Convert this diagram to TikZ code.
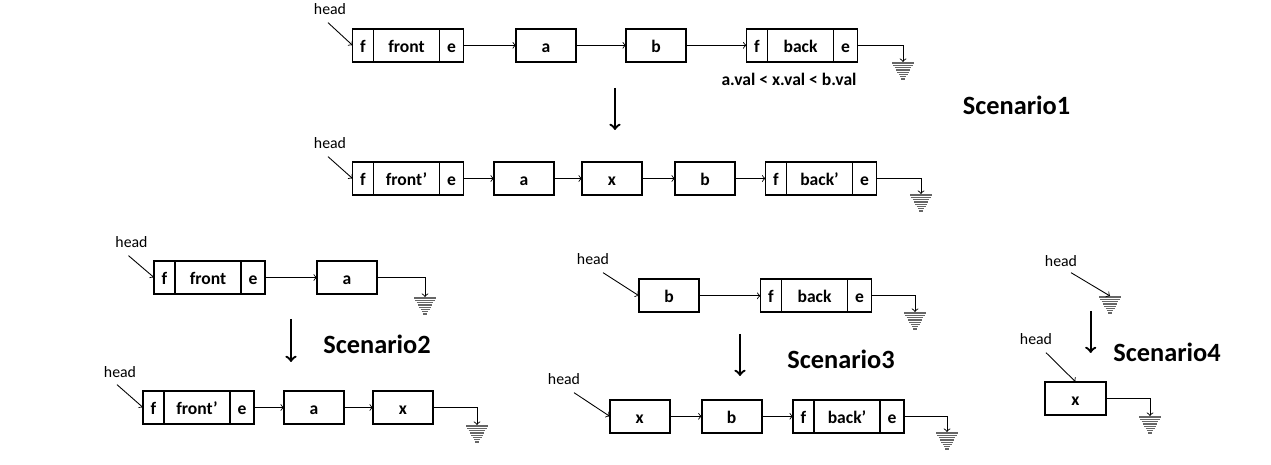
\documentclass[tikz,border=0pt]{standalone}
\usepackage{fontspec}
\setmainfont{Carlito}
\usetikzlibrary{positioning}

\begin{document}
\begin{tikzpicture}[
        x=0.02cm, y=-0.02cm,
        box/.style={draw, line width=1pt, outer sep=0pt, inner sep=0pt, minimum height=0.66cm, text height=8pt, text depth=0pt, font=\bfseries},
        cell/.style={box, minimum width=1.2cm},
        midpart/.style={box, minimum width=1.32cm},
        fpart/.style={box, minimum width=0.42cm},
        epart/.style={box, minimum width=0.48cm},
        headlbl/.style={inner sep=1pt, font=\small},
        scen/.style={font=\fontsize{15}{18}\selectfont\bfseries},
        ptr/.style={->, line width=0.5pt},
        downarr/.style={->, line width=1.3pt},
        gnd/.pic={\foreach \i in {0,...,7} \draw[black!60, line width=0.7pt] ({-11+1.3*\i},{1+2.3*\i}) -- ({11-1.3*\i},{1+2.3*\i});}
        ]
        \useasboundingbox (0,0) rectangle (1271,465);

        % Scenario1, before
        \node[headlbl] (h1) at (330,9) {head};
        \node[midpart] (fr1) at (406.5,45.3) {front};
        \node[fpart, left=0pt of fr1] (fr1f) {f};
        \node[epart, right=0pt of fr1] (fr1e) {e};
        \node[cell] (a1) at (546,45.3) {a};
        \node[cell] (b1) at (656,45.3) {b};
        \node[midpart] (bk1) at (800.5,45.3) {back};
        \node[fpart, left=0pt of bk1] (bk1f) {f};
        \node[epart, right=0pt of bk1] (bk1e) {e};
        \coordinate (g1) at (903,62);
        \pic at (g1) {gnd};
        \node[font=\bfseries] (cond) at (789,79) {a.val < x.val < b.val};

        \draw[ptr] ([shift={(-2,6)}]h1.south) -- (fr1f.west);
        \draw[ptr] (fr1e) -- (a1);
        \draw[ptr] (a1) -- (b1);
        \draw[ptr] (b1) -- (bk1f);
        \draw[ptr] (bk1e.east) -| (g1);

        \coordinate (d1a) at (615,88);
        \coordinate (d1b) at (615,130);
        \draw[downarr] (d1a) -- (d1b);
        \node[scen] (s1) at (1016.5,105.5) {Scenario1};

        % Scenario1, after
        \node[headlbl] (h2) at (330,143) {head};
        \node[midpart] (fr2) at (406.5,178.5) {front’};
        \node[fpart, left=0pt of fr2] (fr2f) {f};
        \node[epart, right=0pt of fr2] (fr2e) {e};
        \node[cell] (a2) at (524,178.5) {a};
        \node[cell] (x2) at (612,178.5) {x};
        \node[cell] (b2) at (705,178.5) {b};
        \node[midpart] (bk2) at (819.5,178.5) {back’};
        \node[fpart, left=0pt of bk2] (bk2f) {f};
        \node[epart, right=0pt of bk2] (bk2e) {e};
        \coordinate (g2) at (921,194);
        \pic at (g2) {gnd};

        \draw[ptr] ([shift={(-2,6)}]h2.south) -- (fr2f.west);
        \draw[ptr] (fr2e) -- (a2);
        \draw[ptr] (a2) -- (x2);
        \draw[ptr] (x2) -- (b2);
        \draw[ptr] (b2) -- (bk2f);
        \draw[ptr] (bk2e.east) -| (g2);

        % Scenario2
        \node[headlbl] (h3) at (131.5,242) {head};
        \node[midpart] (fr3) at (208,277.5) {front};
        \node[fpart, left=0pt of fr3] (fr3f) {f};
        \node[epart, right=0pt of fr3] (fr3e) {e};
        \node[cell] (a3) at (347,277.5) {a};
        \coordinate (g3) at (425,297);
        \pic at (g3) {gnd};

        \draw[ptr] ([shift={(-3,6)}]h3.south) -- (fr3f.west);
        \draw[ptr] (fr3e) -- (a3);
        \draw[ptr] (a3.east) -| (g3);

        \coordinate (d2a) at (291,319);
        \coordinate (d2b) at (291,362);
        \draw[downarr] (d2a) -- (d2b);
        \node[scen] (s2) at (377,344) {Scenario2};

        \node[headlbl] (h4) at (120,372) {head};
        \node[midpart] (fr4) at (197,407.5) {front’};
        \node[fpart, left=0pt of fr4] (fr4f) {f};
        \node[epart, right=0pt of fr4] (fr4e) {e};
        \node[cell] (a4) at (314,407.5) {a};
        \node[cell] (x4) at (403,407.5) {x};
        \coordinate (g4) at (477,425);
        \pic at (g4) {gnd};

        \draw[ptr] ([shift={(-3,5)}]h4.south) -- (fr4f.west);
        \draw[ptr] (fr4e) -- (a4);
        \draw[ptr] (a4) -- (x4);
        \draw[ptr] (x4.east) -| (g4);

        % Scenario3
        \node[headlbl] (h5) at (593,259) {head};
        \node[cell] (b5) at (669,295.8) {b};
        \node[midpart] (bk5) at (814.5,295.8) {back};
        \node[fpart, left=0pt of bk5] (bk5f) {f};
        \node[epart, right=0pt of bk5] (bk5e) {e};
        \coordinate (g5) at (915,312);
        \pic at (g5) {gnd};

        \draw[ptr] ([shift={(10,6)}]h5.south) -- (b5.west);
        \draw[ptr] (b5) -- (bk5f);
        \draw[ptr] (bk5e.east) -| (g5);

        \coordinate (d3a) at (740,334);
        \coordinate (d3b) at (740,376);
        \draw[downarr] (d3a) -- (d3b);
        \node[scen] (s3) at (841,359) {Scenario3};

        \node[headlbl] (h6) at (564,379) {head};
        \node[cell] (x6) at (639.7,416.3) {x};
        \node[cell] (b6) at (731.7,416.3) {b};
        \node[midpart] (bk6) at (847,416.3) {back’};
        \node[fpart, left=0pt of bk6] (bk6f) {f};
        \node[epart, right=0pt of bk6] (bk6e) {e};
        \coordinate (g6) at (947,432);
        \pic at (g6) {gnd};

        \draw[ptr] ([shift={(10,6)}]h6.south) -- (x6.west);
        \draw[ptr] (x6) -- (b6);
        \draw[ptr] (b6) -- (bk6f);
        \draw[ptr] (bk6e.east) -| (g6);

        % Scenario4
        \node[headlbl] (h7) at (1061,261) {head};
        \coordinate (g7) at (1110,296);
        \pic at (g7) {gnd};
        \draw[ptr] ([shift={(10,4)}]h7.south) -- (g7);

        \coordinate (d4a) at (1090.7,311);
        \coordinate (d4b) at (1090.7,353);
        \draw[downarr] (d4a) -- (d4b);
        \node[scen] (s4) at (1167,352) {Scenario4};

        \node[headlbl] (h8) at (1036,339) {head};
        \node[box, minimum width=1.22cm] (x8) at (1075.5,398.3) {x};
        \coordinate (g8) at (1150,416);
        \pic at (g8) {gnd};

        \draw[ptr] ([shift={(10,6)}]h8.south) -- (x8.north);
        \draw[ptr] (x8.east) -| (g8);
    \end{tikzpicture}
\end{document}
